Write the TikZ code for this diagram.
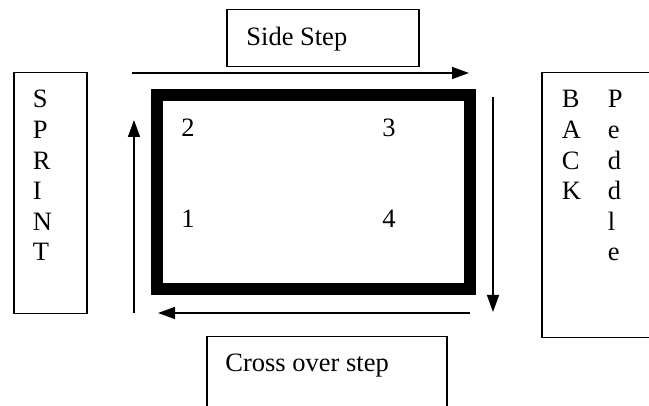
\documentclass[tikz,border=0pt]{standalone}
\usepackage{fontspec}
\setmainfont{Liberation Serif}
\usetikzlibrary{arrows.meta,positioning}

\tikzset{
  frame/.style={draw=black, line width=0.75pt, anchor=north west, inner sep=0pt},
  word/.style={font=\fontsize{13.25}{15}\selectfont, inner sep=0pt, anchor=base west},
  move/.style={draw=black, line width=0.75pt, -{Triangle[length=8.5pt,width=6pt]}},
}

\begin{document}
\begin{tikzpicture}[x=0.5pt,y=-0.5pt]
  \clip (0,0) rectangle (649,406);

  %% course
  \draw[color=black, line width=6pt] (156.5,95.5) rectangle (469.5,289);
  \node[word] (cone 2) at (181,137) {2};
  \node[word] (cone 3) at (382,137) {3};
  \node[word] (cone 1) at (181,228) {1};
  \node[word] (cone 4) at (382,228) {4};

  %% boxes
  \node[frame, minimum width=96pt, minimum height=28.5pt] (side box) at (226,9) {};
  \node[word] (side step) at (246,46) {Side Step};
  \node[frame, minimum width=36.5pt, minimum height=120.5pt] (sprint box) at (13,72) {};
  \node[frame, minimum width=70pt, minimum height=132.5pt] (back box) at (541,72) {};
  \node[frame, minimum width=120pt, minimum height=50pt] (cross box) at (206,336) {};
  \node[word] (cross step) at (225,372) {Cross over step};

  %% letters
  \foreach \ch [count=\i] in {S,P,R,I,N,T}
    \node[word] (sprint \i) at (32.5,{77.4+30.6*\i}) {\ch};
  \foreach \ch [count=\i] in {B,A,C,K}
    \node[word] (back \i) at (561.5,{77.4+30.6*\i}) {\ch};
  \foreach \ch [count=\i] in {P,e,d,d,l,e}
    \node[word] (peddle \i) at (607.5,{77.4+30.6*\i}) {\ch};

  %% arrows round the course
  \coordinate (top start) at (132,73);
  \coordinate (top end) at (469,73);
  \coordinate (right start) at (493,97);
  \coordinate (right end) at (493,312);
  \coordinate (bottom start) at (470,313);
  \coordinate (bottom end) at (158,313);
  \coordinate (left start) at (134,313);
  \coordinate (left end) at (134,120);
  \draw[move] (top start) -- (top end);
  \draw[move] (right start) -- (right end);
  \draw[move] (bottom start) -- (bottom end);
  \draw[move] (left start) -- (left end);
\end{tikzpicture}
\end{document}
